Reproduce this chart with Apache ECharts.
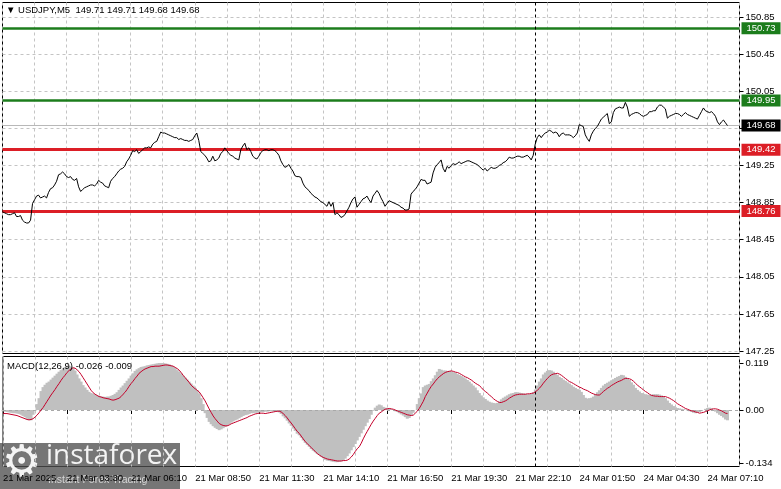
<!DOCTYPE html>
<html><head><meta charset="utf-8">
<script src="https://cdn.jsdelivr.net/npm/echarts@6/dist/echarts.min.js"></script>
<style>html,body{margin:0;padding:0;background:#fff}#c{width:781px;height:489px}</style>
</head><body><div id="c"></div>
<script>
// ---- data ----
const symbolTitle = '▼ USDJPY,M5  149.71 149.71 149.68 149.68';
const macdTitle = 'MACD(12,26,9) -0.026 -0.009';
const tickLabels = ['21 Mar 2025','21 Mar 03:30','21 Mar 06:10','21 Mar 08:50','21 Mar 11:30','21 Mar 14:10','21 Mar 16:50','21 Mar 19:30','21 Mar 22:10','24 Mar 01:50','24 Mar 04:30','24 Mar 07:10'];
const priceTicks = [147.25,147.65,148.05,148.45,148.85,149.25,149.65,150.05,150.45,150.85];
const macdTicks = [-0.134, 0, 0.119];
const levelsGreen = [150.73, 149.95];
const levelsRed = [149.42, 148.76];
const lastPrice = 149.68;
const separatorBar = 266;
const barCount = 369;
const close = [
148.75,148.74,148.73,148.72,148.72,148.73,148.74,148.70,148.70,148.71,
148.66,148.64,148.63,148.63,148.66,148.84,148.88,148.92,148.93,148.90,
148.91,148.92,148.90,148.96,149.00,149.01,149.04,149.08,149.15,149.16,
149.18,149.16,149.13,149.12,149.13,149.10,149.09,149.11,149.02,148.97,
148.99,149.01,149.02,149.03,149.04,149.04,149.03,149.05,149.09,149.07,
149.06,149.03,149.02,149.01,149.08,149.11,149.13,149.16,149.19,149.21,
149.22,149.24,149.29,149.32,149.36,149.41,149.40,149.42,149.38,149.40,
149.42,149.44,149.44,149.45,149.44,149.48,149.50,149.51,149.56,149.61,
149.60,149.60,149.59,149.58,149.57,149.56,149.55,149.55,149.53,149.54,
149.53,149.52,149.52,149.51,149.52,149.53,149.57,149.60,149.52,149.40,
149.38,149.36,149.33,149.29,149.30,149.35,149.30,149.31,149.33,149.38,
149.40,149.44,149.41,149.38,149.36,149.35,149.33,149.32,149.31,149.42,
149.46,149.49,149.42,149.44,149.40,149.35,149.33,149.32,149.35,149.39,
149.41,149.42,149.42,149.41,149.42,149.42,149.41,149.39,149.36,149.30,
149.26,149.23,149.24,149.26,149.22,149.19,149.14,149.13,149.13,149.12,
149.06,149.02,149.00,148.98,148.95,148.93,148.91,148.90,148.88,148.86,
148.85,148.83,148.81,148.86,148.81,148.85,148.72,148.74,148.72,148.69,
148.70,148.72,148.76,148.80,148.85,148.89,148.91,148.80,148.83,148.86,
148.89,148.90,148.92,148.88,148.85,148.92,148.95,148.98,148.95,148.90,
148.86,148.81,148.84,148.87,148.86,148.85,148.84,148.83,148.82,148.80,
148.79,148.77,148.77,148.78,148.94,148.97,148.99,149.02,149.06,149.10,
149.09,149.09,149.05,149.06,149.07,149.17,149.23,149.26,149.28,149.31,
149.22,149.18,149.24,149.22,149.25,149.27,149.26,149.27,149.29,149.27,
149.28,149.29,149.30,149.30,149.29,149.28,149.27,149.26,149.24,149.22,
149.20,149.22,149.19,149.21,149.23,149.22,149.22,149.23,149.25,149.26,
149.28,149.29,149.31,149.34,149.33,149.33,149.34,149.35,149.35,149.34,
149.34,149.35,149.36,149.34,149.31,149.36,149.48,149.55,149.58,149.55,
149.58,149.60,149.61,149.63,149.62,149.60,149.61,149.60,149.56,149.59,
149.60,149.58,149.58,149.58,149.57,149.55,149.57,149.60,149.69,149.68,
149.67,149.58,149.54,149.51,149.58,149.62,149.65,149.67,149.71,149.75,
149.77,149.79,149.81,149.70,149.72,149.82,149.86,149.87,149.88,149.87,
149.87,149.93,149.88,149.78,149.80,149.81,149.82,149.82,149.81,149.79,
149.78,149.79,149.80,149.83,149.83,149.84,149.84,149.88,149.90,149.90,
149.88,149.86,149.76,149.78,149.79,149.80,149.81,149.81,149.80,149.78,
149.80,149.82,149.80,149.79,149.78,149.77,149.76,149.75,149.79,149.83,
149.87,149.84,149.83,149.82,149.83,149.81,149.78,149.72,149.69,149.72,
149.74,149.71,149.68];
const macdHist = [
-0.003,-0.004,-0.005,-0.006,-0.007,-0.008,-0.008,-0.009,-0.010,-0.012,
-0.015,-0.018,-0.022,-0.025,-0.026,-0.012,-0.002,0.015,0.030,0.048,
0.058,0.064,0.069,0.072,0.077,0.082,0.087,0.092,0.097,0.101,
0.105,0.109,0.111,0.111,0.110,0.106,0.100,0.090,0.080,0.072,
0.063,0.057,0.051,0.046,0.043,0.041,0.039,0.037,0.035,0.034,
0.034,0.033,0.034,0.034,0.036,0.038,0.041,0.045,0.051,0.057,
0.062,0.068,0.074,0.080,0.087,0.093,0.099,0.103,0.106,0.109,
0.110,0.111,0.113,0.114,0.115,0.116,0.117,0.118,0.119,0.119,
0.119,0.118,0.117,0.116,0.113,0.110,0.106,0.101,0.097,0.092,
0.087,0.082,0.077,0.072,0.067,0.062,0.056,0.050,0.042,0.030,
0.015,-0.008,-0.020,-0.030,-0.036,-0.041,-0.045,-0.048,-0.051,-0.049,
-0.046,-0.043,-0.040,-0.036,-0.032,-0.029,-0.026,-0.024,-0.021,-0.018,
-0.015,-0.013,-0.012,-0.010,-0.008,-0.008,-0.007,-0.007,-0.006,-0.005,
-0.005,-0.004,-0.004,-0.003,-0.003,-0.003,-0.004,-0.005,-0.006,-0.010,
-0.016,-0.021,-0.027,-0.034,-0.040,-0.047,-0.053,-0.060,-0.064,-0.070,
-0.077,-0.083,-0.088,-0.093,-0.099,-0.103,-0.107,-0.111,-0.114,-0.118,
-0.122,-0.126,-0.128,-0.129,-0.130,-0.131,-0.132,-0.132,-0.131,-0.130,
-0.127,-0.123,-0.117,-0.110,-0.102,-0.094,-0.086,-0.077,-0.068,-0.059,
-0.050,-0.041,-0.032,-0.023,-0.012,-0.002,0.006,0.011,0.014,0.012,
0.008,0.006,0.004,0.003,0.002,0.000,-0.003,-0.005,-0.008,-0.011,
-0.014,-0.018,-0.022,-0.020,-0.013,-0.007,0.000,0.015,0.030,0.042,
0.058,0.062,0.064,0.066,0.073,0.080,0.088,0.097,0.104,0.102,
0.100,0.100,0.099,0.099,0.097,0.096,0.094,0.091,0.089,0.086,
0.083,0.080,0.076,0.072,0.067,0.062,0.057,0.050,0.043,0.037,
0.032,0.028,0.024,0.021,0.019,0.018,0.017,0.018,0.022,0.027,
0.031,0.034,0.037,0.040,0.042,0.043,0.045,0.045,0.044,0.043,
0.042,0.041,0.040,0.040,0.041,0.045,0.052,0.062,0.072,0.080,
0.090,0.095,0.099,0.101,0.100,0.097,0.093,0.089,0.084,0.081,
0.077,0.074,0.070,0.067,0.063,0.059,0.056,0.053,0.051,0.046,
0.038,0.031,0.029,0.030,0.031,0.034,0.040,0.045,0.050,0.056,
0.062,0.066,0.069,0.072,0.075,0.078,0.081,0.084,0.086,0.089,
0.088,0.084,0.080,0.076,0.070,0.064,0.056,0.051,0.047,0.043,
0.041,0.040,0.039,0.038,0.039,0.040,0.040,0.040,0.039,0.037,
0.035,0.030,0.024,0.018,0.014,0.010,0.007,0.005,0.004,0.003,
0.002,0.001,-0.001,-0.003,-0.005,-0.007,-0.008,-0.007,-0.005,-0.003,
0.000,0.003,0.005,0.006,0.004,0.000,-0.004,-0.008,-0.012,-0.015,
-0.019,-0.024,-0.026];
const macdSignal = [
-0.008,-0.009,-0.009,-0.010,-0.011,-0.012,-0.013,-0.014,-0.016,-0.018,
-0.020,-0.022,-0.024,-0.025,-0.024,-0.022,-0.018,-0.013,-0.007,0.000,
0.006,0.014,0.022,0.030,0.038,0.045,0.052,0.060,0.067,0.075,
0.082,0.088,0.095,0.100,0.104,0.107,0.106,0.102,0.097,0.090,
0.082,0.074,0.066,0.058,0.050,0.044,0.040,0.037,0.034,0.033,
0.031,0.030,0.029,0.028,0.026,0.025,0.026,0.028,0.030,0.034,
0.040,0.045,0.052,0.060,0.067,0.073,0.080,0.086,0.093,0.097,
0.101,0.104,0.106,0.108,0.110,0.110,0.111,0.111,0.111,0.112,
0.113,0.114,0.114,0.113,0.112,0.111,0.108,0.105,0.101,0.095,
0.088,0.082,0.076,0.070,0.063,0.058,0.054,0.050,0.046,0.039,
0.031,0.023,0.013,0.003,-0.006,-0.015,-0.022,-0.028,-0.034,-0.037,
-0.039,-0.040,-0.040,-0.038,-0.035,-0.033,-0.031,-0.029,-0.027,-0.025,
-0.023,-0.021,-0.019,-0.016,-0.014,-0.012,-0.010,-0.009,-0.008,-0.008,
-0.008,-0.009,-0.008,-0.007,-0.006,-0.005,-0.004,-0.003,-0.003,-0.005,
-0.009,-0.014,-0.020,-0.027,-0.033,-0.040,-0.047,-0.054,-0.059,-0.066,
-0.073,-0.080,-0.085,-0.090,-0.095,-0.100,-0.105,-0.110,-0.114,-0.117,
-0.120,-0.122,-0.124,-0.125,-0.126,-0.127,-0.128,-0.129,-0.129,-0.129,
-0.128,-0.128,-0.127,-0.124,-0.119,-0.113,-0.105,-0.098,-0.093,-0.084,
-0.073,-0.063,-0.054,-0.045,-0.036,-0.028,-0.021,-0.014,-0.008,-0.005,
-0.001,0.002,0.003,0.004,0.003,0.002,0.000,-0.002,-0.004,-0.006,
-0.008,-0.010,-0.012,-0.013,-0.014,-0.013,-0.008,-0.003,0.004,0.013,
0.022,0.034,0.043,0.052,0.060,0.066,0.073,0.079,0.084,0.088,
0.092,0.095,0.097,0.098,0.099,0.098,0.096,0.095,0.093,0.090,
0.087,0.084,0.082,0.079,0.076,0.072,0.068,0.065,0.062,0.057,
0.051,0.047,0.043,0.038,0.034,0.029,0.025,0.022,0.019,0.019,
0.021,0.023,0.026,0.030,0.033,0.036,0.038,0.039,0.040,0.040,
0.040,0.040,0.041,0.041,0.042,0.043,0.046,0.050,0.055,0.061,
0.068,0.074,0.080,0.085,0.089,0.091,0.092,0.093,0.091,0.088,
0.084,0.080,0.076,0.072,0.070,0.067,0.064,0.061,0.058,0.056,
0.053,0.051,0.049,0.046,0.043,0.041,0.039,0.038,0.038,0.042,
0.047,0.051,0.055,0.058,0.062,0.065,0.068,0.071,0.073,0.075,
0.078,0.080,0.080,0.079,0.077,0.073,0.068,0.063,0.059,0.055,
0.051,0.047,0.044,0.040,0.037,0.036,0.035,0.035,0.034,0.034,
0.034,0.034,0.032,0.030,0.027,0.024,0.020,0.016,0.013,0.010,
0.007,0.004,0.002,0.000,-0.002,-0.003,-0.005,-0.006,-0.008,-0.007,
-0.006,-0.004,-0.002,0.000,0.002,0.003,0.003,0.002,0.000,-0.002,
-0.005,-0.008,-0.009];

// ---- chart ----
const categories = [];
for (let i = 0; i < barCount; i++) categories.push(String(i));
const FONT = 'Liberation Sans';
const FS = 9.5;
const GREEN = '#1c7d1c', RED = '#dc1e26', GRID = '#c4c4c4';
const grid0 = {left: 2.5, top: 2.5, width: 737, height: 351};
const grid1 = {left: 2.5, top: 356.5, width: 737, height: 110};

function levelLine(v, color, width, textColor) {
  return {
    yAxis: v,
    lineStyle: {color: color, width: width, type: 'solid'},
    label: {show: true, position: 'end', distance: 2, formatter: v.toFixed(2),
      color: textColor || '#fff', backgroundColor: color, padding: [1, 5, 0, 5],
      fontFamily: FONT, fontSize: FS, lineHeight: 11}
  };
}
const levelData = [];
levelsGreen.forEach(v => levelData.push(levelLine(v, GREEN, 2.5)));
levelsRed.forEach(v => levelData.push(levelLine(v, RED, 3)));
const lp = levelLine(lastPrice, '#000', 1);
lp.lineStyle.color = '#b8b8b8';
levelData.push(lp);
levelData.push({xAxis: String(separatorBar), lineStyle: {color: '#000', width: 1, type: [3, 3]}, label: {show: false}});

const xBase = {
  type: 'category', data: categories, boundaryGap: false,
  axisLine: {show: false}, axisTick: {show: false}, axisLabel: {show: false},
  splitLine: {show: true, interval: 15, lineStyle: {color: GRID, type: [3, 3], width: 1}}
};

const chart = echarts.init(document.getElementById('c'), null, {renderer: 'canvas'});
chart.setOption({
  animation: false,
  backgroundColor: '#fff',
  grid: [
    Object.assign({show: true, borderColor: '#000', borderWidth: 1, backgroundColor: 'transparent'}, grid0),
    Object.assign({show: true, borderColor: '#000', borderWidth: 1, backgroundColor: 'transparent'}, grid1)
  ],
  xAxis: [
    Object.assign({gridIndex: 0}, xBase),
    Object.assign({}, xBase, {
      gridIndex: 1,
      axisTick: {show: true, interval: 31, length: 4, lineStyle: {color: '#000'}},
      axisLabel: {show: true, interval: 31, align: 'left', margin: 7, color: '#000',
        fontFamily: FONT, fontSize: FS,
        formatter: (v, idx) => (idx % 32 === 0 && tickLabels[idx / 32]) ? tickLabels[idx / 32] : ''}
    })
  ],
  yAxis: [
    {type: 'value', gridIndex: 0, position: 'right', min: 147.223, max: 151.007,
      axisLine: {show: false},
      axisTick: {show: true, length: 4, customValues: priceTicks, lineStyle: {color: '#000'}},
      axisLabel: {show: true, customValues: priceTicks, margin: 6, color: '#000', fontFamily: FONT, fontSize: FS,
        formatter: v => Number(v).toFixed(2)},
      splitLine: {show: true, lineStyle: {color: GRID, type: [3, 3], width: 1}}},
    {type: 'value', gridIndex: 1, position: 'right', min: -0.1430, max: 0.1355,
      axisLine: {show: false},
      axisTick: {show: true, length: 4, customValues: macdTicks, lineStyle: {color: '#000'}},
      axisLabel: {show: true, customValues: macdTicks, margin: 6, color: '#000', fontFamily: FONT, fontSize: FS,
        formatter: v => (Math.abs(v) < 1e-9 ? '0.00' : Number(v).toFixed(3))},
      splitLine: {show: false}}
  ],
  series: [
    {type: 'line', xAxisIndex: 0, yAxisIndex: 0, data: close, symbol: 'none',
      lineStyle: {color: '#000', width: 1}, z: 5,
      markLine: {silent: true, symbol: ['none', 'none'], animation: false, data: levelData, z: 4}},
    {type: 'bar', xAxisIndex: 1, yAxisIndex: 1, data: macdHist, barWidth: 3,
      itemStyle: {color: '#c0c0c0'}, z: 2,
      markLine: {silent: true, symbol: ['none', 'none'], animation: false, data: [
        {yAxis: 0, lineStyle: {color: '#a8a8a8', type: [3, 3], width: 1}, label: {show: false}},
        {xAxis: String(separatorBar), lineStyle: {color: '#000', width: 1, type: [3, 3]}, label: {show: false}}
      ]}},
    {type: 'line', xAxisIndex: 1, yAxisIndex: 1, data: macdSignal, symbol: 'none',
      lineStyle: {color: '#c4002a', width: 1}, z: 5}
  ],
  graphic: [
    {type: 'text', left: 6, top: 5, z: 10, style: {text: symbolTitle, fill: '#000', font: FS + 'px "' + FONT + '"'}},
    {type: 'text', left: 7, top: 361, z: 10, style: {text: macdTitle, fill: '#000', font: FS + 'px "' + FONT + '"'}},
    {type: 'group', z: 100, children: [
      {type: 'rect', shape: {x: 0, y: 443, width: 180, height: 46}, style: {fill: 'rgba(80,80,80,0.78)'}},
      {type: 'text', x: 2, y: 443, style: {text: '⚙', fill: '#f4f4f4', font: '44px "DejaVu Sans"'}},
      {type: 'text', x: 46, y: 442, style: {text: 'instaforex', fill: '#f4f4f4', font: '28px "Open Sans"'}},
      {type: 'text', x: 48, y: 475, style: {text: 'Instant Forex Trading', fill: '#d6d6d6', font: '10.5px "' + FONT + '"'}}
    ]}
  ]
});
</script></body></html>
